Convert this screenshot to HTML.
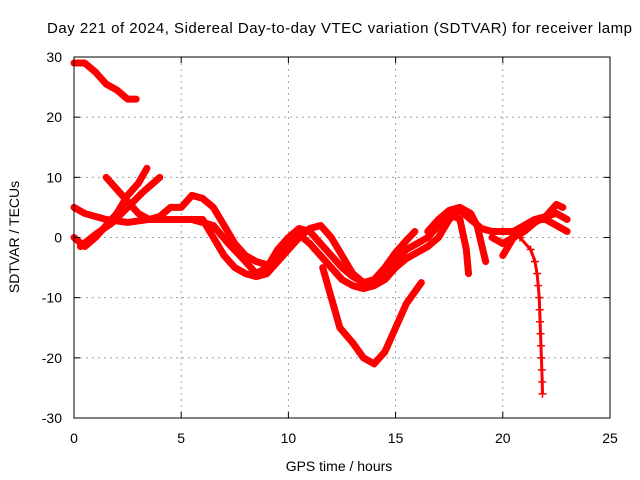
<!DOCTYPE html>
<html><head><meta charset="utf-8"><style>
body{margin:0;background:#fff;}
svg{display:block;font-family:"Liberation Sans",sans-serif;}
</style></head><body>
<svg id="chart" width="640" height="480" viewBox="0 0 640 480">
<rect width="640" height="480" fill="#fff"/>
<text x="47" y="33" font-size="15" textLength="585" lengthAdjust="spacing">Day 221 of 2024, Sidereal Day-to-day VTEC variation (SDTVAR) for receiver lamp</text>
<g id="grid"></g>
<g id="series"></g>
<rect x="74" y="57" width="536" height="361" fill="none" stroke="#000" stroke-width="1"/>
<g id="ticks"></g>
<text x="339" y="471" font-size="14" text-anchor="middle">GPS time / hours</text>
<text transform="translate(19,237) rotate(-90)" font-size="14" text-anchor="middle">SDTVAR / TECUs</text>
</svg>
<script>
const xTicks=[0,5,10,15,20,25];
const yTicks=[-30,-20,-10,0,10,20,30];
const s1=[[0,29],[0.5,29],[1,27.5],[1.5,25.5],[2,24.5],[2.5,23],[2.9,23]];
const s2=[[11.6,-5],[12,-10],[12.4,-15],[13,-17.5],[13.5,-20],[14,-21],[14.5,-19],[15,-15],[15.5,-11],[16.2,-7.5]];
const s3=[[20,1],[20.8,0],[21.3,-2],[21.5,-4],[21.6,-6],[21.65,-8],[21.7,-10],[21.72,-12],[21.74,-14],[21.76,-16],[21.78,-18],[21.8,-20],[21.82,-22],[21.84,-24],[21.85,-26]];
const s4=[[0,5],[0.5,4],[1.5,3],[2.5,2.5],[3.5,3],[4.5,3],[5.5,3],[6.5,2],[7.2,-1],[8,-4],[8.5,-6],[9,-5],[9.5,-2],[10,0],[10.5,1.5],[11,1],[11.5,-1],[12,-3],[12.5,-5],[13,-6.5],[13.5,-7.5],[14,-8],[14.5,-7],[15,-5],[15.5,-3.5],[16,-2.5],[16.5,-1.5],[17,0],[17.5,3],[18,4.5],[18.5,3],[19,1.5],[19.5,1],[20,1],[20.5,1],[21,2],[21.5,3],[22,3.5],[22.5,4],[23,3]];
const s5=[[0,0],[0.5,-1.5],[1,0],[1.5,2],[2,4],[2.5,7],[3,9],[3.4,11.5]];
const s6=[[1.5,10],[2,8],[2.5,6],[3,4],[3.5,3],[4,3.5],[4.5,5],[5,5],[5.5,7],[6,6.5],[6.5,5],[7,2],[7.5,-1],[8,-3],[8.5,-4],[9,-4.5],[9.5,-4],[10,-1],[10.5,0.5],[11,-1],[11.5,-3],[12,-5],[12.5,-7],[13,-8],[13.5,-8.5],[14,-8],[14.5,-6],[15,-4],[15.5,-2],[16,-1],[16.5,0],[17,2],[17.5,4],[18,3],[18.3,-2],[18.4,-6]];
const s7=[[0.3,-1.5],[1,0.5],[1.8,2.5],[2.5,5],[3.2,7.5],[4,10]];
const s8=[[19.5,0],[20,-1],[20.5,0],[21,1],[21.5,2.5],[22,3.5],[22.5,5.5],[22.8,5]];
const s9=[[5,3],[6,3],[7,-3],[7.5,-5],[8,-6],[8.5,-6.5],[9,-6],[9.5,-4],[10,-2],[10.5,0],[11,1.5],[11.5,2],[12,0],[12.5,-3],[13,-6],[13.5,-7.5],[14,-7],[14.5,-5],[15,-2.5],[15.5,-0.5],[15.9,1]];
const s10=[[16.5,1],[17,3],[17.5,4.5],[18,5],[18.5,4],[18.8,2],[19,-1],[19.2,-4]];
const s11=[[20,-3],[20.5,0],[21,2],[21.5,3],[22,3],[22.5,2],[23,1]];
const allSeries=[s1,s2,s4,s5,s6,s7,s8,s9,s10,s11];
const NS="http://www.w3.org/2000/svg";
const X=v=>74+v*(536/25);
const Y=v=>237.5-v*(361/60);
const grid=document.getElementById('grid'),ticks=document.getElementById('ticks'),ser=document.getElementById('series');
function mk(t,a,p){const e=document.createElementNS(NS,t);for(const k in a)e.setAttribute(k,a[k]);p.appendChild(e);return e;}
xTicks.forEach(v=>{
 if(v>0&&v<25){const g=mk('line',{x1:X(v),x2:X(v),y1:57,y2:418,stroke:'#a0a0a0','stroke-dasharray':'2,4'},grid);
 
 }
 mk('line',{x1:X(v),x2:X(v),y1:418,y2:412,stroke:'#000'},ticks);
 mk('line',{x1:X(v),x2:X(v),y1:57,y2:63,stroke:'#000'},ticks);
 const t=mk('text',{x:X(v),y:443,'font-size':14,'text-anchor':'middle'},ticks);t.textContent=v;
 
 
});
yTicks.forEach(v=>{
 if(v>-30&&v<30){const g=mk('line',{x1:74,x2:610,y1:Y(v),y2:Y(v),stroke:'#a0a0a0','stroke-dasharray':'2,4'},grid);
 
 }
 mk('line',{x1:74,x2:80,y1:Y(v),y2:Y(v),stroke:'#000'},ticks);
 mk('line',{x1:610,x2:604,y1:Y(v),y2:Y(v),stroke:'#000'},ticks);
 const t=mk('text',{x:62,y:Y(v)+5,'font-size':14,'text-anchor':'end'},ticks);t.textContent=v;
 
 
});
allSeries.forEach(s=>{
 const p=mk('polyline',{points:s.map(d=>X(d[0])+','+Y(d[1])).join(' '),fill:'none',stroke:'#f00','stroke-width':7,'stroke-linejoin':'round','stroke-linecap':'round'},ser);
 
 
});
const tail=mk('polyline',{points:s3.map(d=>X(d[0])+','+Y(d[1])).join(' '),fill:'none',stroke:'#f00','stroke-width':3},ser);


s3.forEach(d=>{
 const m=mk('path',{d:`M${X(d[0])-4},${Y(d[1])}h8M${X(d[0])},${Y(d[1])-4}v8`,stroke:'#f00','stroke-width':1.5},ser);
 
 
});
</script>
</body></html>
